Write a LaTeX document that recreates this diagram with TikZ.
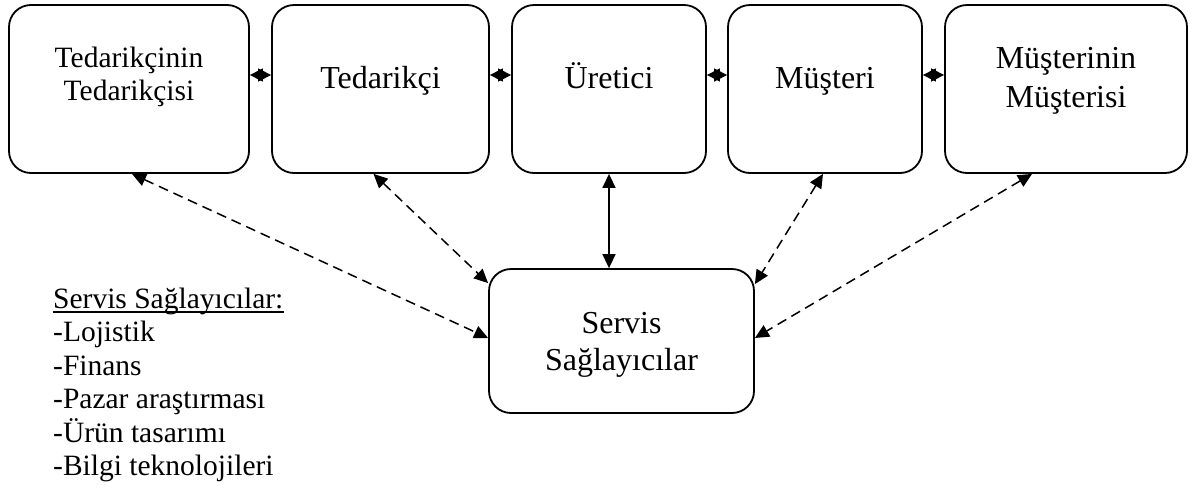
\documentclass[tikz,border=0pt]{standalone}
\usepackage{fontspec}
\setmainfont{Liberation Serif}
\usetikzlibrary{arrows.meta,calc}

\begin{document}
\begin{tikzpicture}[x=1pt,y=-1pt,
  box/.style={draw, line width=1.8pt, rounded corners=22pt, inner sep=0pt},
  txt/.style={anchor=base, inner sep=0pt, font=\fontsize{32}{38}\selectfont},
  txtsmall/.style={anchor=base, inner sep=0pt, font=\fontsize{29.5}{34}\selectfont},
  listtxt/.style={anchor=base west, inner sep=0pt, font=\fontsize{29.5}{34}\selectfont},
  tip/.tip={Triangle[length=14pt,width=13pt]},
  smalltip/.tip={Triangle[length=13pt,width=13pt]},
  dlink/.style={draw, line width=1.5pt, dash pattern=on 10pt off 6pt, tip-tip},
  slink/.style={draw, line width=1.5pt, tip-tip},
  hlink/.style={draw, line width=1.5pt, smalltip-smalltip}]

\useasboundingbox (0,0) rectangle (1192,488);

% supply chain members
\node[box, minimum width=240pt, minimum height=168pt] (b1) at (129,89) {};
\node[box, minimum width=217pt, minimum height=168pt] (b2) at (380.5,89) {};
\node[box, minimum width=194pt, minimum height=168pt] (b3) at (609,89) {};
\node[box, minimum width=194pt, minimum height=168pt] (b4) at (825,89) {};
\node[box, minimum width=242pt, minimum height=168pt] (b5) at (1066,89) {};

% service providers
\node[box, minimum width=265pt, minimum height=144pt] (ss) at (621.5,341) {};

% box labels
\node[txtsmall] (b1l1) at (129,67) {Tedarikçinin};
\node[txtsmall] (b1l2) at (129,100) {Tedarikçisi};
\node[txt] (b2l) at (380.5,88) {Tedarikçi};
\node[txt] (b3l) at (609,88) {Üretici};
\node[txt] (b4l) at (825,88) {Müşteri};
\node[txt] (b5l1) at (1066,68) {Müşterinin};
\node[txt] (b5l2) at (1066,107) {Müşterisi};
\node[txt] (ssl1) at (621.5,333) {Servis};
\node[txt] (ssl2) at (621.5,370) {Sağlayıcılar};

% list of service providers
\node[listtxt] (hdr) at (53,308) {Servis Sağlayıcılar:};
\draw[line width=1.3pt] ([yshift=-4pt]hdr.base west) -- ([yshift=-4pt]hdr.base east);
\node[listtxt] (i1) at (53,341.5) {-Lojistik};
\node[listtxt] (i2) at (53,375) {-Finans};
\node[listtxt] (i3) at (53,408.5) {-Pazar araştırması};
\node[listtxt] (i4) at (53,442) {-Ürün tasarımı};
\node[listtxt] (i5) at (53,475.5) {-Bilgi teknolojileri};

% links between neighbouring members
\draw[hlink] ([yshift=14pt]b1.east) -- ([yshift=14pt]b2.west);
\draw[hlink] ([yshift=14pt]b2.east) -- ([yshift=14pt]b3.west);
\draw[hlink] ([yshift=14pt]b3.east) -- ([yshift=14pt]b4.west);
\draw[hlink] ([yshift=14pt]b4.east) -- ([yshift=14pt]b5.west);

% links to the service providers
\draw[slink] (b3.south) -- (b3.south |- ss.north);
\draw[dlink] ([xshift=3pt]b1.south) -- ([yshift=3pt]ss.west);
\draw[dlink] ([xshift=-7pt]b2.south) -- ([yshift=-15pt]ss.north west);
\draw[dlink] ([xshift=-2pt]b4.south) -- ([yshift=-16pt]ss.north east);
\draw[dlink] ([xshift=-34pt]b5.south) -- ([yshift=3pt]ss.east);
\end{tikzpicture}
\end{document}
